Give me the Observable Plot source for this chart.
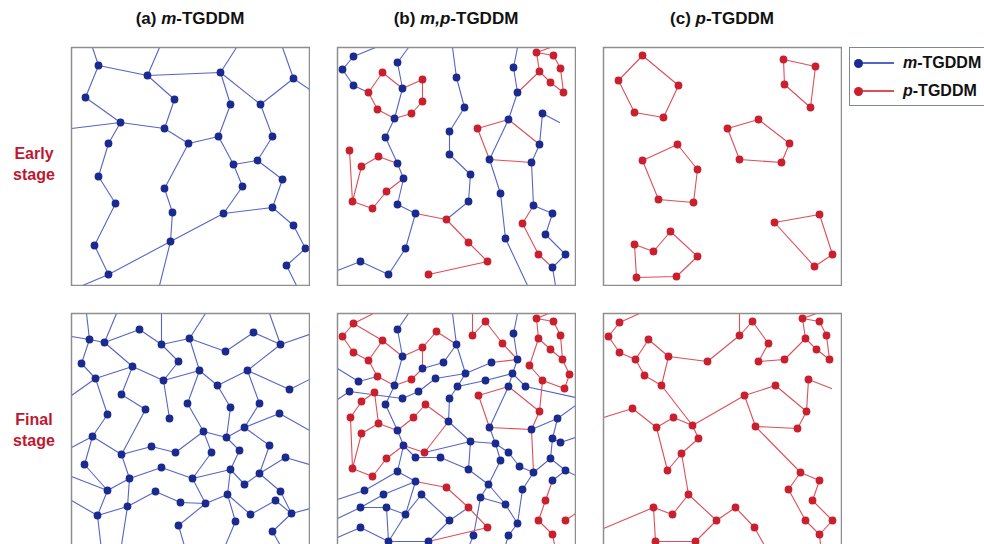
<!DOCTYPE html>
<html>
<head>
<meta charset="utf-8">
<script src="https://cdn.jsdelivr.net/npm/d3@7"></script>
<script src="https://cdn.jsdelivr.net/npm/@observablehq/plot@0.6"></script>
<style>
  html, body { margin: 0; padding: 0; background: #fff; overflow: hidden; }
  #fig { position: relative; width: 984px; height: 544px; overflow: hidden;
         font-family: "Liberation Sans", Arial, Helvetica, sans-serif; color: #111; }
  #fig .panel { position: absolute; }
  #fig .panel svg { display: block; }
  .title { position: absolute; top: 19px; transform: translate(-50%, -50%);
           font-size: 17px; font-weight: bold; line-height: 20px; white-space: nowrap; }
  .stage { position: absolute; transform: translate(-50%, -50%); text-align: center;
           font-size: 16px; font-weight: bold; line-height: 21px; color: #c0172f; }
  .legend { position: absolute; left: 849px; top: 47px; width: 170px; height: 59px;
            border: 1px solid #7f8890; box-sizing: border-box; background: #fff; }
  .key { position: absolute; left: 0; height: 0; }
  .key .ln { position: absolute; left: 9px; top: -0.75px; width: 35px; height: 1.5px; }
  .key .pt { position: absolute; left: 4px; top: -4.5px; width: 9px; height: 9px; border-radius: 50%; }
  .key .lab { position: absolute; left: 53px; top: -10px; font-size: 16px; font-weight: bold;
              line-height: 20px; white-space: nowrap; }
</style>
</head>
<body>
<div id="fig"></div>
<script>
// Colours of the two monomers: dots are darker than the bonds joining them
const C = { mDot: "#1b2a8f", mLine: "#5565c6", pDot: "#c8202e", pLine: "#df4e59" };

// Each panel: node positions (0..238 box units, y downward) grouped by monomer,
// and bond paths. A path starts with its bond colour, then node ids or free
// [x, y] ends (box edge or loose end, drawn without a dot).

// (a) m-TGDDM, early stage
const aEarlyM = {1:[27,18],2:[76,28],3:[149,25],4:[222,31],5:[14,50],6:[103,52],7:[159,57],8:[189,57],
  9:[49,75],10:[93,81],11:[147,89],12:[201,89],13:[37,96],14:[117,96],15:[162,117],16:[186,113],
  17:[27,129],18:[93,141],19:[171,139],20:[211,132],21:[44,156],22:[101,165],23:[152,166],24:[201,160],
  25:[23,198],26:[99,194],27:[222,178],28:[234,201],29:[37,227],30:[215,218]};
const aEarlyLinks = [
  ["m",[21,0],1,5,9,13,17,21,25,29,[11,238]],
  ["m",29,26,23,24,27,28,30,[225,238]],
  ["m",1,2,3,8,4,[238,42]],
  ["m",[88,0],2,6,10,14,11,7,3,[165,0]],
  ["m",[0,81],9,10],
  ["m",14,18,22,26,[88,238]],
  ["m",11,15,19,23],
  ["m",8,12,16,15],
  ["m",16,20,24],
  ["m",[211,0],4]
];

// (b) m,p-TGDDM, early stage
const bEarlyM = {b1:[16,9],b2:[5,22],b3:[16,38],b4:[60,15],b5:[65,41],b6:[57,71],b7:[48,90],b8:[60,116],
  b9:[66,131],b10:[60,157],b11:[78,166],b12:[68,201],b13:[51,227],b14:[23,214],b15:[119,30],b16:[127,60],
  b17:[112,84],b18:[112,107],b19:[133,127],b20:[131,154],b21:[176,20],b22:[180,45],b23:[171,72],b24:[152,112],
  b25:[163,146],b26:[168,191],b27:[205,66],b28:[202,97],b29:[194,115],b30:[196,158],b31:[215,166],b32:[208,187],
  b33:[228,207],b34:[215,220]};
const bEarlyP = {r1:[45,25],r2:[31,45],r3:[40,62],r4:[74,66],r5:[85,54],r6:[85,32],r7:[12,103],r8:[24,119],
  r9:[41,109],r10:[49,144],r11:[35,161],r12:[15,154],r13:[109,172],r14:[131,195],r15:[150,214],r16:[91,227],
  r17:[140,81],r18:[199,5],r19:[216,8],r20:[223,21],r21:[226,45],r22:[213,35],r23:[202,24],r24:[185,176],r25:[201,207]};
const bEarlyLinks = [
  ["m",[38,0],"b1","b2","b3","r2"],
  ["m",[71,0],"b4","b5","b6","b7","b8","b9","b10","b11","b12","b13","b14",[0,223]],
  ["m",[115,0],"b15","b16","b17","b18","b19","b20","r13"],
  ["m",[180,0],"b21","b22","b23","b24","b25","b26",[190,238]],
  ["m",[222,75],"b27","b28","b29","b30","b31","b32","b33","b34",[218,238]],
  ["p","r2","r1","b5","r6","r5","r4","b6","r3","r2"],
  ["p","r7","r12","r8","r9","b8"],
  ["p","r12","r11","r10","b9"],
  ["p","b11","r13","r14","r15","r16"],
  ["p","b28","b23","r17","b24","b29"],
  ["p","b22","r23","r18",[213,0]],
  ["p","r18","r19","r20","r21","r22","r23"],
  ["p","b30","r24","r25","b34"]
];

// (c) p-TGDDM, early stage: isolated rings
const cEarlyP = {1:[39,8],2:[75,38],3:[60,70],4:[31,65],5:[15,33],
  6:[180,12],7:[212,19],8:[207,60],9:[181,37],
  10:[124,81],11:[155,72],12:[186,96],13:[178,115],14:[136,112],
  15:[74,97],16:[94,122],17:[90,155],18:[55,152],19:[39,113],
  20:[31,197],21:[50,204],22:[67,184],23:[94,209],24:[73,229],25:[33,230],
  26:[171,175],27:[216,167],28:[229,207],29:[211,219]};
const cEarlyLinks = [
  ["p",1,2,3,4,5,1], ["p",6,7,8,9,6], ["p",10,11,12,13,14,10],
  ["p",15,16,17,18,19,15], ["p",20,21,22,23,24,25,20], ["p",26,27,28,29,26]
];

// (a) m-TGDDM, final stage
const aFinalM = {1:[18,26],2:[33,29],3:[68,16],4:[90,31],5:[118,25],6:[154,38],7:[182,19],8:[209,31],
  9:[10,50],10:[24,65],11:[61,53],12:[107,48],13:[92,67],14:[128,57],15:[146,72],16:[176,57],17:[218,76],
  18:[50,81],19:[74,96],20:[98,105],21:[116,90],22:[159,94],23:[188,90],24:[36,101],25:[208,100],
  26:[173,114],27:[132,118],28:[155,124],29:[21,123],30:[50,141],31:[80,133],32:[104,139],33:[140,139],
  34:[168,137],35:[198,132],36:[214,144],37:[13,151],38:[90,154],39:[58,165],40:[121,165],41:[159,156],
  42:[188,160],43:[173,171],44:[36,177],45:[84,178],46:[109,189],47:[134,190],48:[156,181],49:[209,178],
  50:[204,187],51:[220,200],52:[26,202],53:[56,193],54:[179,201],55:[164,208],56:[107,212],57:[201,218]};
const aFinalLinks = [
  ["m",[0,23],1,2,3,4,5,6,7,8,[238,21]],
  ["m",[15,0],1,9,10,11,2,[45,0]],
  ["m",[90,0],4,12,13,11,18,19,30,39,38,40,33,27,28,26,23,16,8,[198,0]],
  ["m",[134,0],5,14,13,20],
  ["m",14,15,16,17,[238,66]],
  ["m",14,21,27,32,31,30,29,24,10,[0,82]],
  ["m",15,22,28,34,41,48,47,46,45,53,39],
  ["m",[238,117],25,26,35,42,43,41,40,47],
  ["m",[238,151],36,42,49,51,[239,195]],
  ["m",51,50,54,48,55,[150,241]],
  ["m",51,57,[214,241]],
  ["m",[0,134],29,37,44,39],
  ["m",[0,163],44,52,53,[48.5,241]],
  ["m",[0,187],52,[30.5,241]],
  ["m",47,56,[115.5,241]]
];

// (b) m,p-TGDDM, final stage
const bFinalM = {q1:[60,16],q2:[65,43],q3:[57,72],q4:[85,55],q5:[106,49],q6:[119,31],q7:[128,60],q8:[98,65],
  q9:[81,78],q10:[65,85],q11:[21,68],q12:[12,78],q13:[48,91],q14:[120,73],q15:[112,85],q16:[111,108],
  q17:[60,117],q18:[66,132],q19:[78,144],q20:[103,144],q21:[133,128],q22:[60,158],q23:[78,168],q24:[131,156],
  q25:[151,171],q26:[27,177],q27:[46,181],q28:[23,194],q29:[49,194],q30:[84,181],q31:[68,201],q32:[112,207],
  q33:[23,214],q34:[51,228],q35:[91,228],q36:[143,184],q37:[168,191],q38:[180,210],q39:[154,49],q40:[148,67],
  q41:[176,20],q42:[180,46],q43:[175,60],q44:[171,73],q45:[188,73],q46:[152,114],q47:[194,116],q48:[220,105],
  q49:[215,125],q50:[223,129],q51:[158,130],q52:[171,139],q53:[163,147],q54:[182,153],q55:[196,159],
  q56:[213,145],q57:[228,157],q58:[215,167],q59:[185,176],q60:[171,222],q61:[136,222]};
const bFinalP = {p1:[16,10],p2:[5,23],p3:[16,39],p4:[31,47],p5:[40,63],p6:[45,27],p7:[85,34],p8:[99,18],
  p9:[74,66],p10:[37,79],p11:[24,88],p12:[13,104],p13:[41,110],p14:[24,120],p15:[15,155],p16:[35,163],
  p17:[49,145],p18:[76,104],p19:[88,91],p20:[87,139],p21:[109,174],p22:[131,194],p23:[150,214],p24:[135,22],
  p25:[148,8],p26:[165,30],p27:[141,82],p28:[202,98],p29:[199,5],p30:[216,8],p31:[223,22],p32:[213,36],
  p33:[225,46],p34:[232,61],p35:[227,75],p36:[205,67],p37:[192,52],p38:[201,25],p39:[208,187],p40:[228,207],
  p41:[201,207],p42:[215,221]};
const bFinalLinks = [
  ["m",[71,0],"q1","q2","q3","q13","q17","q18","q22","q23","q31","q34","q33",[0,224]],
  ["m",[0,55],"q11","p5"],
  ["m",[0,86],"q12","q10","q9","q8","q7"],
  ["m","q4","q5","q6",[115,0]],
  ["m","q6","q7","q14","q15","q16","q21","q24","q20","q19","q18"],
  ["m","q7","q39"],
  ["m","q14","q40","q43","q45",[238,84]],
  ["m",[180,0],"q41","q42","q43","q44","q46","q51","q52","q54","q55","q56","q49","q48",[238,92]],
  ["m","q48","q47"],
  ["m","q51","q53","q25","q37","q38","q59","q55"],
  ["m","q21","q51"],
  ["m","q21","p20"],
  ["m","q24","q25"],
  ["m","q49","q50",[238,124]],
  ["m","q56","q57",[238,162]],
  ["m","q57","q58"],
  ["m",[0,186],"q26","q22"],
  ["m",[0,205],"q28","q27","q23"],
  ["m","q28","q29","q31"],
  ["m","q29","q34"],
  ["m","q31","q30","q32","q35","q34"],
  ["m","q32","p22"],
  ["m","q36","q25"],
  ["m","q36","q37"],
  ["m","q36","q61",[128,241]],
  ["m","q38","q60",[165,241]],
  ["m","q35",[96,241]],
  ["p",[36,0],"p1","p2","p3","p4","p5","q3","p9","q4","p7","q2","p6","p1"],
  ["p","p6","p4"],
  ["p","p7","p8","q6"],
  ["p","p10","p11","p12","p15","p14","p13","p10"],
  ["p","p13","q17"],
  ["p","p15","p16","p17","q18","p20","q16","p19","p18","q17"],
  ["p","q23","p21","p22","p23","q35"],
  ["p",[135,0],"p24","p25","p26","q42"],
  ["p","q39","q42"],
  ["p",[211,0],"p29","p30","p31","p33","p32","p38","p29"],
  ["p","p38","p37","p36","p35","p34","p33"],
  ["p","p36","p28","q47","q55"],
  ["p","p27","q44","p28"],
  ["p","p27","q46","q47"],
  ["p","q58","p39","p41","p42",[219,241]],
  ["p","p40",[238,200]]
];

// (c) p-TGDDM, final stage
const cFinalP = {1:[16,9],2:[5,23],3:[16,39],4:[32,46],5:[41,62],6:[45,26],7:[65,43],8:[58,72],9:[104,48],
  10:[136,22],11:[149,8],12:[165,30],13:[155,48],14:[181,46],15:[202,25],16:[199,5],17:[216,8],18:[223,22],
  19:[213,36],20:[226,46],21:[29,95],22:[53,114],23:[70,104],24:[89,112],25:[95,125],26:[78,140],27:[64,157],
  28:[141,82],29:[172,72],30:[203,98],31:[194,115],32:[152,113],33:[205,66],34:[85,181],35:[50,194],
  36:[69,201],37:[52,228],38:[92,228],39:[113,207],40:[132,194],41:[151,214],42:[197,159],43:[216,167],
  44:[185,176],45:[209,187],46:[202,207],47:[229,207],48:[216,221]};
const cFinalLinks = [
  ["p",[36,0],1,2,3,4,5,8,7,6,4],
  ["p",7,9,10,[136,0]],
  ["p",10,11,12,13,14,15,16,[213,0]],
  ["p",16,17,18,20,19,15],
  ["p",8,24,28,29,30,31,32,28],
  ["p",32,42,43,45,47,48,46,44,42],
  ["p",48,[218,241]],
  ["p",[228,75],33,30],
  ["p",[0,104],21,22,23,24,25,26,27,22],
  ["p",26,34,36,35,37,38,39,34],
  ["p",39,40,41,[166,241]],
  ["p",35,[0,215]]
];

// Panel titles, row labels and legend entries
const titles = [
  {pre: "(a) ", it: "m", post: "-TGDDM"},
  {pre: "(b) ", it: "m,p", post: "-TGDDM"},
  {pre: "(c) ", it: "p", post: "-TGDDM"}
];
const stages = ["Early stage", "Final stage"];
const legendKeys = [{kind: "m", label: "-TGDDM"}, {kind: "p", label: "-TGDDM"}];

const grid = [
  {col: 0, row: 0, nodes: {m: aEarlyM}, links: aEarlyLinks},
  {col: 1, row: 0, nodes: {m: bEarlyM, p: bEarlyP}, links: bEarlyLinks},
  {col: 2, row: 0, nodes: {p: cEarlyP}, links: cEarlyLinks},
  {col: 0, row: 1, nodes: {m: aFinalM}, links: aFinalLinks},
  {col: 1, row: 1, nodes: {m: bFinalM, p: bFinalP}, links: bFinalLinks},
  {col: 2, row: 1, nodes: {p: cFinalP}, links: cFinalLinks}
];

// Page layout (pixels)
const colLeft = [71, 337, 603], rowTop = [47, 313], box = 238;

function network(nodesByKind, links) {
  const lookup = {}, dots = [], pts = [];
  for (const kind of ["m", "p"]) {
    for (const [id, [x, y]] of Object.entries(nodesByKind[kind] || {})) {
      lookup[id] = [x, y];
      dots.push({kind, x, y});
    }
  }
  links.forEach(([kind, ...path], i) => {
    for (const p of path) {
      const [x, y] = Array.isArray(p) ? p : lookup[p];
      pts.push({kind, chain: i, x, y});
    }
  });
  const line = (kind, stroke) => Plot.line(pts.filter(d => d.kind === kind),
    {x: "x", y: "y", z: "chain", stroke, strokeWidth: 1.1, clip: true});
  const dot = (kind, fill) => Plot.dot(dots.filter(d => d.kind === kind),
    {x: "x", y: "y", r: 3.9, fill, stroke: "none", clip: true});
  return Plot.plot({
    width: box + 2, height: box + 2, margin: 1,
    x: {domain: [0, box], axis: null},
    y: {domain: [0, box], reverse: true, axis: null},
    marks: [
      line("m", C.mLine), line("p", C.pLine),
      dot("m", C.mDot), dot("p", C.pDot),
      Plot.frame({stroke: "#8e8e8e", strokeWidth: 1.5})
    ]
  });
}

const fig = document.getElementById("fig");

for (const g of grid) {
  const holder = document.createElement("div");
  holder.className = "panel";
  holder.style.left = (colLeft[g.col] - 1) + "px";
  holder.style.top = (rowTop[g.row] - 1) + "px";
  holder.appendChild(network(g.nodes, g.links));
  fig.appendChild(holder);
}

titles.forEach((t, i) => {
  const el = document.createElement("div");
  el.className = "title";
  el.style.left = (colLeft[i] + box / 2) + "px";
  el.append(t.pre);
  const it = document.createElement("i");
  it.textContent = t.it;
  el.append(it, t.post);
  fig.appendChild(el);
});

stages.forEach((s, i) => {
  const el = document.createElement("div");
  el.className = "stage";
  el.style.left = "34px";
  el.style.top = (rowTop[i] + box / 2 - 2) + "px";
  const [a, b] = s.split(" ");
  el.append(a, document.createElement("br"), b);
  fig.appendChild(el);
});

const legend = document.createElement("div");
legend.className = "legend";
legendKeys.forEach((k, i) => {
  const row = document.createElement("div");
  row.className = "key";
  row.style.top = (15 + i * 28) + "px";
  const ln = document.createElement("span");
  ln.className = "ln";
  ln.style.background = k.kind === "m" ? C.mLine : C.pLine;
  const pt = document.createElement("span");
  pt.className = "pt";
  pt.style.background = k.kind === "m" ? C.mDot : C.pDot;
  const lab = document.createElement("span");
  lab.className = "lab";
  const it = document.createElement("i");
  it.textContent = k.kind;
  lab.append(it, k.label);
  row.append(ln, pt, lab);
  legend.appendChild(row);
});
fig.appendChild(legend);
</script>
</body>
</html>
